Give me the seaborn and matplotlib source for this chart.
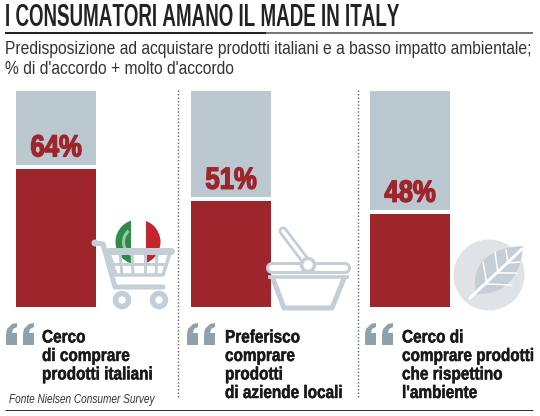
import matplotlib
matplotlib.use("Agg")
import matplotlib.pyplot as plt
import seaborn as sns
import matplotlib.patheffects as pe
from matplotlib import font_manager as fm
from matplotlib.patches import Circle, Polygon, PathPatch, Rectangle, Wedge
from matplotlib.path import Path
from fontTools.ttLib import TTFont

# Values from the picture
categories = ["Prodotti italiani", "Aziende locali", "Ambiente"]
shares = [64, 51, 48]
# bars in the original are not quite proportional, heights read on a 0-100 panel
bar_heights = [64, 49, 43]
panel_left = [16, 191, 370]
captions = [
    ["Cerco", "di comprare", "prodotti italiani"],
    ["Preferisco", "comprare", "prodotti", "di aziende locali"],
    ["Cerco di", "comprare prodotti", "che rispettino", "l'ambiente"],
]
caption_x = [42, 225, 402]
quote_x = [6, 187, 365]

RED = "#9e252b"
GREY = "#bcc8d0"
ICON = "#c3ced6"
QUOTE = "#8fa1ad"
W, H = 540, 416
GAP = 1.85

sns.set_theme(style="white")
plt.rcParams["font.family"] = ["Liberation Sans", "DejaVu Sans"]


def narrow_font(out, sx, weight="normal", style="normal"):
    # no condensed family installed, so squeeze Liberation Sans into a new file
    src = fm.findfont(fm.FontProperties(family="Liberation Sans", weight=weight, style=style))
    f = TTFont(src)
    glyf = f["glyf"]
    for name in f.getGlyphOrder():
        g = glyf[name]
        if g.isComposite():
            for comp in g.components:
                comp.x = int(comp.x * sx)
        elif g.numberOfContours > 0:
            g.coordinates.scale((sx, 1))
        g.recalcBounds(glyf)
        if hasattr(g, "program"):
            g.removeHinting()
        adv, lsb = f["hmtx"][name]
        f["hmtx"][name] = (int(adv * sx), int(lsb * sx))
    for tag in ["kern", "GPOS", "GSUB", "fpgm", "prep", "cvt ", "hdmx", "VDMX", "LTSH"]:
        if tag in f:
            del f[tag]
    f.save(out)
    return out


title_font = narrow_font("title.ttf", 0.587, weight="bold")
sub_font = narrow_font("sub.ttf", 0.87)
cap_font = narrow_font("cap.ttf", 0.85, weight="bold")
note_font = narrow_font("note.ttf", 0.76, style="italic")
pct_font = narrow_font("pct.ttf", 0.84, weight="bold")

fig = plt.figure(figsize=(W / 100, H / 100), dpi=100, facecolor="white")

# one small axes per panel, the gaps between them are not equal
for i, left in enumerate(panel_left):
    ax = fig.add_axes([left / W, (H - 307) / H, 80 / W, 216 / H])
    sns.barplot(x=[categories[i]], y=[bar_heights[i]], color=RED, saturation=1,
                width=1, linewidth=0, ax=ax)
    sns.barplot(x=[categories[i]], y=[100 - bar_heights[i] - GAP], bottom=bar_heights[i] + GAP,
                color=GREY, saturation=1, width=1, linewidth=0, ax=ax)
    ax.set_ylim(0, 100)
    ax.axis("off")
    ax.text(0, bar_heights[i] + GAP + 7.6, f"{shares[i]}%", color=RED, ha="center", va="center",
            fontproperties=fm.FontProperties(fname=pct_font, size=22),
            path_effects=[pe.withStroke(linewidth=1.0, foreground=RED)])

# overlay in pixel units for text and icons
ov = fig.add_axes([0, 0, 1, 1], facecolor="none")
ov.set_xlim(0, W)
ov.set_ylim(H, 0)
ov.axis("off")


def px(v):
    return v * 72 / 100


def line(xs, ys, color=ICON, width=4, z=3, cap="round"):
    ov.plot(xs, ys, color=color, lw=px(width), solid_capstyle=cap, solid_joinstyle="round", zorder=z)


ov.text(5, 18.5, "I CONSUMATORI AMANO IL MADE IN ITALY", color="#222222", va="center", ha="left",
        fontproperties=fm.FontProperties(fname=title_font, size=23))
line([5, 533], [32.5, 32.5], "#555555", 1.6, cap="butt")
line([5, 266], [32.5, 32.5], "#222222", 2, cap="butt")
ov.text(5, 49.5, "Predisposizione ad acquistare prodotti italiani e a basso impatto ambientale;",
        color="#333333", va="center", fontproperties=fm.FontProperties(fname=sub_font, size=13))
ov.text(5, 70, "% di d'accordo + molto d'accordo", color="#333333", va="center",
        fontproperties=fm.FontProperties(fname=sub_font, size=13))

for x in [178, 358]:
    ov.plot([x, x], [90, 398], color="#5c656b", lw=1, ls=(0, (1, 1.5)), zorder=1)

line([5, 533], [409.5, 409.5], "#333333", 1, cap="butt")
ov.text(9, 400, "Fonte Nielsen Consumer Survey", color="#333333", va="center",
        fontproperties=fm.FontProperties(fname=note_font, size=9.5))

# captions and quote marks
for i, lines in enumerate(captions):
    for j, t in enumerate(lines):
        ov.text(caption_x[i], 338 + j * 18.5, t, color="#1a1a1a", va="center",
                fontproperties=fm.FontProperties(fname=cap_font, size=13),
                path_effects=[pe.withStroke(linewidth=0.3, foreground="#1a1a1a")])
    for off in [0, 17]:
        x0 = quote_x[i] + off
        ov.add_patch(Polygon([(x0, 345), (x0 + 11, 345), (x0 + 11, 333), (x0 + 6, 333), (x0 + 7, 329),
                              (x0 + 11, 327), (x0 + 11, 323), (x0 + 6, 324), (x0 + 1, 329), (x0, 334)],
                             closed=True, fc=QUOTE, ec="none", zorder=3))

# flag ball behind the cart
ball = (138, 242)
ball_r = 22.5
clip = Circle(ball, ball_r, transform=ov.transData)
for xa, xb, c in [(114, 131, "#2f8b49"), (131, 146, "white"), (146, 162, "#c4262e")]:
    r = Rectangle((xa, 215), xb - xa, 48, fc=c, ec="none", zorder=2)
    ov.add_patch(r)
    r.set_clip_path(clip)
arc = Wedge(ball, 16, 120, 230, width=3, fc="#9ac7a4", ec="none", zorder=2.2)
ov.add_patch(arc)
arc.set_clip_path(clip)

# cart
ov.add_patch(Circle((95, 243), 3.5, fc=ICON, ec="none", zorder=3))
line([95, 103, 115, 163], [243, 244, 287, 287], width=5)
line([108, 171], [251, 251], width=7)
line([109, 116, 163, 170], [253, 275, 275, 253], width=3.5, cap="butt")
line([112, 167], [264, 264], width=3, cap="butt")
for xa, xb in [(120, 122), (132, 133), (145, 145), (157, 156)]:
    line([xa, xb], [253, 275], width=3, cap="butt")
for cx in [122, 159]:
    ov.add_patch(Circle((cx, 300), 6.5, fc="white", ec=ICON, lw=px(5.5), zorder=3))

# basket
line([283, 308], [231, 264], width=9)
line([283, 308], [231, 264], color="white", width=3.5, z=3.1)
line([272, 345], [268, 268], width=12)
line([272, 345], [268, 268], color="white", width=6, z=3.1)
line([272, 284, 332, 345], [276, 308, 308, 276], width=5, cap="butt")
line([268, 349], [277, 277], width=3.5, cap="butt")
ov.add_patch(Circle((308, 265), 6.5, fc="white", ec=ICON, lw=px(3.5), zorder=3.2))

# leaf on a circle
ov.add_patch(Circle((489, 275), 35.5, fc="#dfe3e6", ec="none", zorder=2))
leaf = Path([(476, 294), (470, 262), (490, 248), (523, 246), (522, 270), (510, 295), (476, 294)],
            [Path.MOVETO, Path.CURVE4, Path.CURVE4, Path.CURVE4, Path.CURVE4, Path.CURVE4, Path.CURVE4])
ov.add_patch(PathPatch(leaf, fc=ICON, ec="none", zorder=3))
line([470, 522], [298, 249], "white", 3, z=3.2)
for a, b in [((487, 284), (483, 262)), ((498, 273), (495, 252)), ((508, 263), (506, 250)),
             ((487, 284), (512, 285)), ((498, 273), (517, 273)), ((508, 263), (520, 262))]:
    line([a[0], b[0]], [a[1], b[1]], "white", 1.5, z=3.2)

fig.savefig("out.png", dpi=100)
